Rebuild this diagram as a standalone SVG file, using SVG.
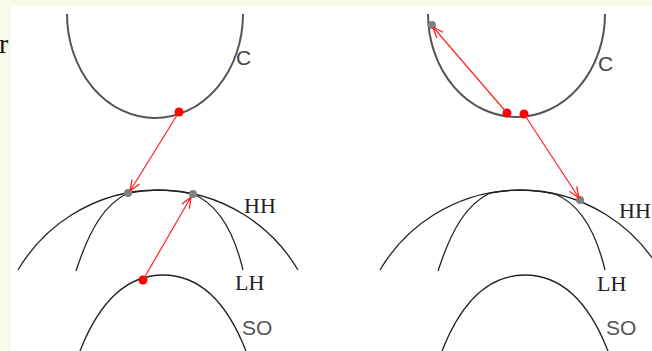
<svg xmlns="http://www.w3.org/2000/svg" width="652" height="351" viewBox="0 0 652 351">
<defs>
<style>
.bg{fill:#fafae8}
.panel{fill:#ffffff}
.cc{fill:none;stroke:#555;stroke-width:2}
.ln{fill:none;stroke:#222;stroke-width:1.3}
.sans{font-family:"Liberation Sans",Arial,sans-serif;font-size:21px;fill:#444}
.serif{font-family:"Liberation Serif","Times New Roman",serif;font-size:22px;fill:#222}
.arrow{fill:none;stroke:#ff2020;stroke-width:1.2;marker-end:url(#ah)}
.rdot{fill:#ff0000}
.gdot{fill:#808080}
</style>
<marker id="ah" viewBox="0 0 10 10" refX="10" refY="5" markerWidth="11" markerHeight="11" markerUnits="userSpaceOnUse" orient="auto">
<path d="M0,1 L10,5 L0,9" fill="none" stroke="#ff2020" stroke-width="1.2"/>
</marker>
</defs>
<rect class="bg" x="0" y="0" width="652" height="351"/>
<rect class="panel" x="11" y="6" width="641" height="345"/>
<text x="-1" y="53" class="serif" style="fill:#111;font-size:28px">r</text>

<g id="left-C">
<path class="cc" d="M67,14 A88,104 0 0 0 243,14"/>
<text x="236" y="65" class="sans">C</text>
</g>
<g id="left-HH">
<path class="ln" d="M18,270 A162.5,162.5 0 0 1 298,270"/>
<text x="244" y="213" class="serif">HH</text>
</g>
<g id="left-LH">
<path class="ln" d="M76,271 C90,228 105,204 128,193 A162.5,162.5 0 0 1 193,194 C215,203 233,228 243,270"/>
<text x="235" y="290" class="serif">LH</text>
</g>
<g id="left-SO">
<path class="ln" d="M80,351 C98,305 125,275 163,275 C201,275 228,305 246,351"/>
<text x="242" y="335" class="sans" style="fill:#555">SO</text>
</g>

<g id="right-C">
<path class="cc" d="M428,14 A88.5,103 0 0 0 605,14"/>
<text x="598" y="71" class="sans">C</text>
</g>
<g id="right-HH">
<path class="ln" d="M380,270 A162.5,162.5 0 0 1 660,270"/>
<text x="619" y="218" class="serif">HH</text>
</g>
<g id="right-LH">
<path class="ln" d="M438,271 C452,228 467,204 490,193 A162.5,162.5 0 0 1 555,194 C577,203 595,228 605,270"/>
<text x="597" y="291" class="serif">LH</text>
</g>
<g id="right-SO">
<path class="ln" d="M442,351 C460,305 487,275 525,275 C563,275 590,305 608,351"/>
<text x="606" y="335" class="sans" style="fill:#555">SO</text>
</g>

<g id="points">
<circle class="gdot" cx="128" cy="193" r="4"/>
<circle class="gdot" cx="193" cy="194" r="4"/>
<circle class="gdot" cx="432" cy="25" r="4"/>
<circle class="gdot" cx="580" cy="200" r="4"/>
<circle class="rdot" cx="179" cy="112" r="4.5"/>
<circle class="rdot" cx="143" cy="280" r="4.5"/>
<circle class="rdot" cx="507" cy="113" r="4.5"/>
<circle class="rdot" cx="524" cy="114" r="4.5"/>
</g>

<g id="connectors">
<line class="arrow" x1="179" y1="112" x2="130" y2="191"/>
<line class="arrow" x1="143" y1="280" x2="191" y2="197"/>
<line class="arrow" x1="507" y1="113" x2="433" y2="27"/>
<line class="arrow" x1="524" y1="114" x2="579" y2="198"/>
</g>
</svg>
